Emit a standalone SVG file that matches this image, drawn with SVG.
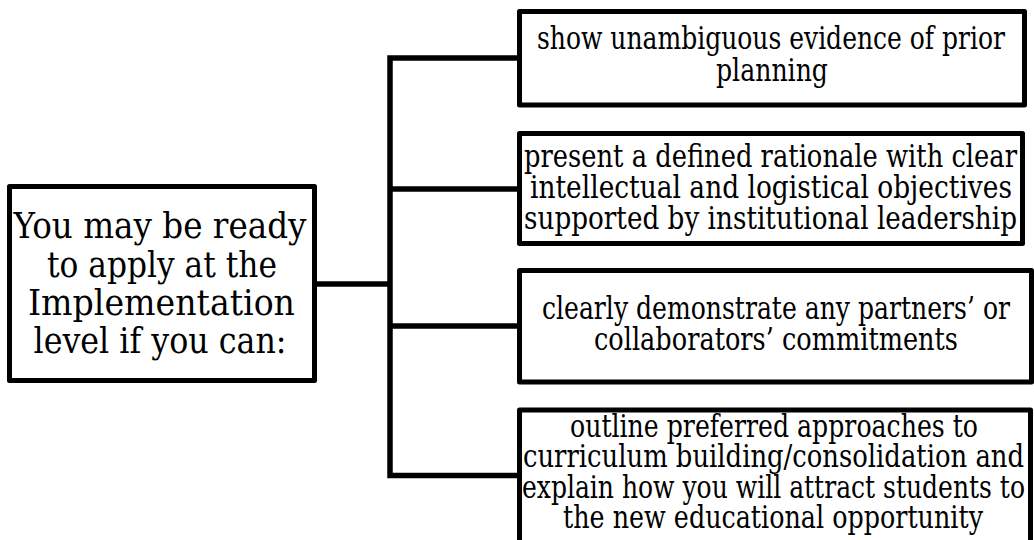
<svg xmlns="http://www.w3.org/2000/svg" width="1034" height="540" viewBox="0 0 1034 540">
<style>
.box{fill:#fff;stroke:#000;stroke-width:5;stroke-linejoin:round}
.conn{fill:none;stroke:#000;stroke-width:5.5;stroke-linejoin:miter}
.t{font-family:"DejaVu Serif","Liberation Serif",serif;fill:#000;text-anchor:middle}
.big{font-size:35px}
.sm{font-size:31px}
</style>
<rect width="1034" height="540" fill="#fff"/>
<g id="connectors">
<path class="conn" d="M314 284 H390"/>
<path class="conn" d="M519 58 H390 V475.5 H519"/>
<path class="conn" d="M390 189 H519"/>
<path class="conn" d="M390 326 H519"/>
</g>
<g id="root">
<rect class="box" x="9.5" y="186.5" width="305" height="194"/>
<text class="t big" x="160" y="238" textLength="293" lengthAdjust="spacingAndGlyphs">You may be ready</text>
<text class="t big" x="162" y="276.7" textLength="230" lengthAdjust="spacingAndGlyphs">to apply at the</text>
<text class="t big" x="161.5" y="315" textLength="267" lengthAdjust="spacingAndGlyphs">Implementation</text>
<text class="t big" x="160" y="353" textLength="253" lengthAdjust="spacingAndGlyphs">level if you can:</text>
</g>
<g id="n1">
<rect class="box" x="519.5" y="11.5" width="505" height="93.5"/>
<text class="t sm" x="771" y="49" textLength="468" lengthAdjust="spacingAndGlyphs">show unambiguous evidence of prior</text>
<text class="t sm" x="772" y="81" textLength="112" lengthAdjust="spacingAndGlyphs">planning</text>
</g>
<g id="n2">
<rect class="box" x="519.5" y="133.5" width="503" height="110"/>
<text class="t sm" x="770.5" y="167" textLength="493" lengthAdjust="spacingAndGlyphs">present a defined rationale with clear</text>
<text class="t sm" x="771" y="198" textLength="482" lengthAdjust="spacingAndGlyphs">intellectual and logistical objectives</text>
<text class="t sm" x="770.5" y="229" textLength="493" lengthAdjust="spacingAndGlyphs">supported by institutional leadership</text>
</g>
<g id="n3">
<rect class="box" x="519.5" y="270.5" width="512" height="111.5"/>
<text class="t sm" x="776" y="318.5" textLength="468" lengthAdjust="spacingAndGlyphs">clearly demonstrate any partners’ or</text>
<text class="t sm" x="776" y="349.5" textLength="364" lengthAdjust="spacingAndGlyphs">collaborators’ commitments</text>
</g>
<g id="n4">
<rect class="box" x="519.5" y="410" width="511" height="140"/>
<text class="t sm" x="774" y="436.5" textLength="408" lengthAdjust="spacingAndGlyphs">outline preferred approaches to</text>
<text class="t sm" x="773.5" y="467" textLength="501" lengthAdjust="spacingAndGlyphs">curriculum building/consolidation and</text>
<text class="t sm" x="773.5" y="497.5" textLength="503" lengthAdjust="spacingAndGlyphs">explain how you will attract students to</text>
<text class="t sm" x="773" y="528" textLength="420" lengthAdjust="spacingAndGlyphs">the new educational opportunity</text>
</g>
</svg>
